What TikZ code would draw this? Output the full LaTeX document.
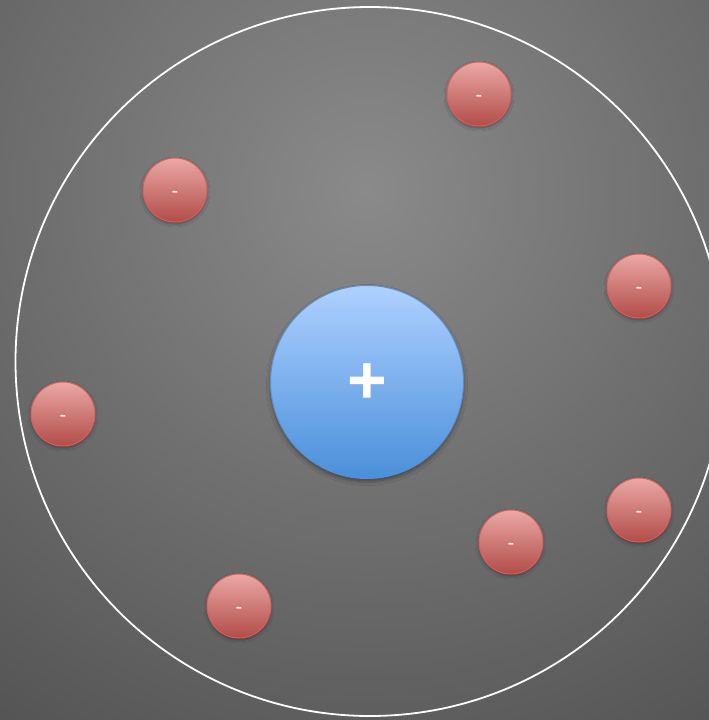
\documentclass[tikz,border=0pt]{standalone}
\usepackage{fontspec}
\setmainfont{Liberation Sans}
\usetikzlibrary{shadows.blur}
\definecolor{bgin}{HTML}{8A8A8A}
\definecolor{bgout}{HTML}{545454}
\definecolor{nucTop}{HTML}{AFD1FF}
\definecolor{nucBot}{HTML}{4A8FDA}
\definecolor{nucLine}{HTML}{5B8FCB}
\definecolor{eTop}{HTML}{EBA8A6}
\definecolor{eBot}{HTML}{B24C49}
\definecolor{eLine}{HTML}{D3605B}
\pgfdeclareradialshading{bgshade}{\pgfpoint{0bp}{0bp}}{color(0bp)=(bgin); color(25bp)=(bgout); color(50bp)=(bgout)}
\newcommand{\mns}{\raisebox{-7pt}[0pt][0pt]{-}}
\newcommand{\pls}{\raisebox{-21pt}[0pt][0pt]{+}}
\tikzset{
  electron/.style={circle, minimum size=64pt, inner sep=0pt, draw=eLine, line width=1pt,
    top color=eTop, bottom color=eBot, text=white,
    blur shadow={shadow xshift=0pt, shadow yshift=-2pt, shadow blur radius=3pt, shadow opacity=35},
    font=\fontsize{20}{20}\selectfont},
  nucleus/.style={circle, minimum size=193pt, inner sep=0pt, draw=nucLine, line width=1pt,
    top color=nucTop, bottom color=nucBot, text=white,
    blur shadow={shadow xshift=0pt, shadow yshift=-3pt, shadow blur radius=4pt, shadow opacity=40},
    font=\fontsize{68}{68}\selectfont\bfseries},
  orbit/.style={circle, minimum size=709pt, inner sep=0pt, draw=white, line width=1.8pt}
}
\begin{document}
\begin{tikzpicture}[x=1pt,y=-1pt]
\useasboundingbox (0,0) rectangle (709,720);
\begin{scope}
\clip (0,0) rectangle (709,720);
\shade[shading=bgshade] (-283,-460) rectangle (1017,840);
\node[orbit] (orb) at (370,361.5) {};
\end{scope}
\node[nucleus] (nuc) at (367,382) {\pls};
\node[electron] (e1) at (479,94) {\mns};
\node[electron] (e2) at (175,190) {\mns};
\node[electron] (e3) at (639,286) {\mns};
\node[electron] (e4) at (63,414) {\mns};
\node[electron] (e5) at (639,510) {\mns};
\node[electron] (e6) at (511,542) {\mns};
\node[electron] (e7) at (239,606) {\mns};
\end{tikzpicture}
\end{document}
